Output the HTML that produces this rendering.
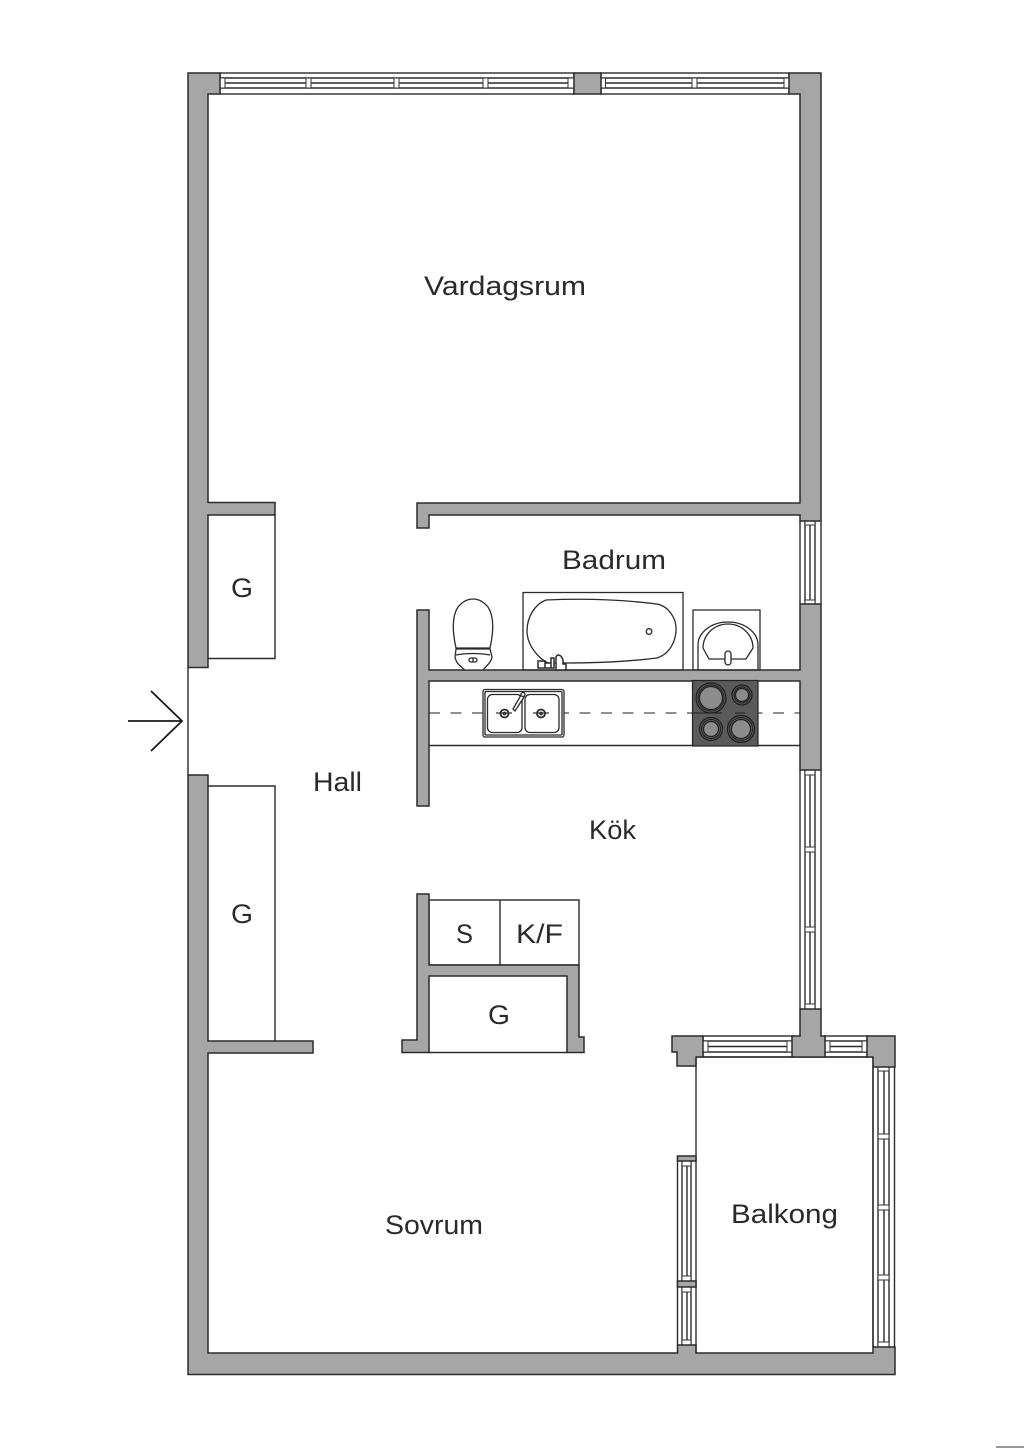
<!DOCTYPE html>
<html><head><meta charset="utf-8"><style>
html,body{margin:0;padding:0;background:#fff}
svg{display:block}
text{font-family:"Liberation Sans",sans-serif;font-size:27px;fill:#2a2a2a}
.w{fill:#a6a6a6;stroke:#2b2b2b;stroke-width:1.5;stroke-linejoin:miter}
.l{fill:none;stroke:#2b2b2b;stroke-width:1.4}
.t{fill:none;stroke:#2b2b2b;stroke-width:1.3}
.m{fill:#fff;stroke:#333;stroke-width:1}
.b{fill:#8c8c8c;stroke:#222;stroke-width:1.2}
</style></head><body>
<svg width="1024" height="1448" viewBox="0 0 1024 1448" xmlns="http://www.w3.org/2000/svg">
<rect width="1024" height="1448" fill="#fff"/>

<!-- top windows -->
<g class="l">
<rect x="220" y="73" width="354" height="21"/>
<rect x="601" y="73" width="188" height="21"/>
<path d="M220 78H574M220 88H574M220 83H574M601 78H789M601 88H789M601 83H789" />
<!-- right wall windows -->
<path d="M800 521V604M821 521V604M805 521V604M810 521V604M815 521V604"/>
<path d="M800 770V1009M821 770V1009M805 770V1009M810 770V1009M815 770V1009"/>
<!-- balcony front windows -->
<rect x="703" y="1036" width="90" height="21"/>
<path d="M703 1041H793M703 1052H793M708 1046.500H787"/>
<rect x="825" y="1036" width="42" height="21"/>
<path d="M825 1041H867M825 1052H867M830 1046.500H862"/>
<!-- balcony right window -->
<path d="M873 1067V1347M878 1067V1347M884 1067V1347M889 1067V1347M894.500 1067V1347"/>
<!-- bedroom window -->
<path d="M677.500 1156V1345M682 1161V1345M687 1161V1345M691 1161V1345M696 1057V1353M873 1057V1347M696 1057H873"/>
</g>
<g class="m">
<rect x="220" y="78" width="5" height="10"/><rect x="306" y="78" width="5" height="10"/><rect x="394" y="78" width="5" height="10"/><rect x="483" y="78" width="5" height="10"/><rect x="568" y="78" width="6" height="10"/>
<rect x="601" y="78" width="4.500" height="10"/><rect x="692" y="78" width="5" height="10"/><rect x="784" y="78" width="5" height="10"/>
<rect x="805" y="521" width="10" height="4"/><rect x="805" y="600" width="10" height="4"/>
<rect x="805" y="770" width="10" height="5"/><rect x="805" y="847" width="10" height="5"/><rect x="805" y="927" width="10" height="5"/><rect x="805" y="1004" width="10" height="5"/>
<rect x="703" y="1041" width="5" height="11"/><rect x="787" y="1041" width="5" height="11"/><rect x="825" y="1041" width="5" height="11"/><rect x="862" y="1041" width="5" height="11"/>
<rect x="878" y="1067" width="11" height="4"/><rect x="878" y="1134" width="11" height="5"/><rect x="878" y="1205" width="11" height="5"/><rect x="878" y="1275" width="11" height="5"/><rect x="878" y="1342" width="11" height="5"/>
<rect x="682" y="1161" width="9" height="5"/><rect x="682" y="1276" width="9" height="5"/><rect x="682" y="1287" width="9" height="5"/><rect x="682" y="1340" width="9" height="5"/>
</g>

<!-- closets -->
<g class="l">
<path d="M275 515V658.500H208"/>
<path d="M208 786H275V1041"/>
<rect x="429" y="900" width="150" height="65"/>
<path d="M500 900V965M429 1052.500H567"/>
<path d="M188 667V775"/>
<path d="M429 745.500H800"/>
</g>

<!-- walls -->
<g class="w">
<path d="M188 73H220V94H208V502.500H275V515H208V667.500H188Z"/>
<rect x="574" y="73" width="27" height="21"/>
<path d="M821 73H789V94H800V503H417V528H429V515H800V521H821Z"/>
<path d="M417 610H429V670H800V604H821V770H800V681H429V806H417Z"/>
<path d="M188 775H208V1041H313V1053H208V1353H677.500V1345H696V1353H873V1347H895V1374.500H188Z"/>
<path d="M417 894H429V965H579V1037H584V1052.500H567V976H429V1052.500H402V1040H417Z"/>
<path d="M672 1036H703V1057H696V1066H677V1052H672Z"/>
<path d="M800 1009H821V1036H825V1057H792V1036H800Z"/>
<path d="M867 1036H895V1067H873V1057H867Z"/>
<rect x="677.500" y="1156" width="18.500" height="5"/>
<rect x="677.500" y="1281" width="18.500" height="6"/>
</g>

<!-- arrow -->
<path d="M128 721H182M151 691L182 721L151 751" fill="none" stroke="#1a1a1a" stroke-width="1.8"/>

<!-- toilet -->
<g class="t">
<path d="M456 648C452 630 452 616 458 607C463 601 468 599 473 599C478 599 483 601 488 607C494 616 494 630 490 648Z" fill="#fff"/>
<path d="M456 649H490L492 657C491 663 486 666 483 670H465C460 666 456 663 455 657Z" fill="#fff"/>
<path d="M456 655C466 653 480 653 490 655"/>
<rect x="469" y="658" width="8" height="4" rx="2"/>
<path d="M473 658V662"/>
</g>

<!-- bath -->
<rect x="523" y="592.500" width="160" height="77.500" class="t" fill="none"/>
<g class="t">
<path d="M546 600C590 598 625 600 657 604C668 606 677 618 676 631C675 645 667 655 657 658C625 662 590 663 565 663H548C538 658 527 645 527 631C527 617 535 604 546 600Z" fill="#fff"/>
<circle cx="649" cy="631.500" r="2.800"/>
<path d="M538 661H545V668H538ZM545 663H551V668H545ZM551 658H554V668H551ZM556 657C557 654 561 654 563 660V664H566V670H556Z" fill="#fff" stroke-width="1.500"/>
</g>

<!-- wash basin -->
<g class="t">
<rect x="693" y="610" width="67" height="60"/>
<path d="M698 670V645A30 23 0 0 1 758 645V670"/>
<path d="M703 648A25 24 0 0 1 753 648L746 659H709Z" fill="#fff"/>
<rect x="725" y="651" width="6" height="14" rx="3" fill="#fff"/>
</g>

<!-- dashed line -->
<path d="M429 713H800" fill="none" stroke="#222" stroke-width="1.100" stroke-dasharray="11 10.500"/>

<!-- sink -->
<g class="t">
<rect x="483" y="689.500" width="81" height="47.500" rx="2" fill="#fff" stroke-width="1.300"/>
<rect x="485" y="691.500" width="77" height="43.500" rx="1"/>
<rect x="487.500" y="694.500" width="34.500" height="38" rx="5"/>
<rect x="525" y="694.500" width="34" height="38" rx="5"/>
<path d="M496 713H512M533 713H549" stroke="#333"/>
<circle cx="504.500" cy="713.500" r="4" stroke-width="1.800"/>
<circle cx="504.500" cy="713.500" r="1.200"/>
<circle cx="541" cy="713.500" r="4" stroke-width="1.800"/>
<circle cx="541" cy="713.500" r="1.200"/>
<path d="M513 709L521 695L524 697L515 711Z" fill="#fff"/>
<circle cx="523" cy="694.500" r="2" fill="#fff"/>
</g>

<!-- hob -->
<rect x="692.500" y="680.500" width="65.500" height="65.500" fill="#5a5a5a" stroke="#222" stroke-width="1.200"/>
<path d="M692 713H722M735 713H745" stroke="#222" stroke-width="1"/>
<g fill="none" stroke="#1f1f1f" stroke-width="1.200">
<circle cx="711" cy="698" r="15"/><circle cx="742" cy="695" r="10"/><circle cx="711" cy="729" r="11.500"/><circle cx="741" cy="729" r="13.500"/>
</g>
<g class="b">
<circle cx="711" cy="698" r="11.500"/><circle cx="742" cy="695" r="6.500"/><circle cx="711" cy="729" r="7.500"/><circle cx="741" cy="729" r="9.500"/>
</g>
<g fill="none" stroke="#222" stroke-width="1">
<circle cx="711" cy="698" r="13"/><circle cx="742" cy="695" r="8"/><circle cx="711" cy="729" r="9.500"/><circle cx="741" cy="729" r="11.500"/>
</g>

<!-- labels -->
<text x="424" y="295" textLength="162" lengthAdjust="spacingAndGlyphs">Vardagsrum</text>
<text x="562" y="569" textLength="104" lengthAdjust="spacingAndGlyphs">Badrum</text>
<text x="313" y="791" textLength="49" lengthAdjust="spacingAndGlyphs">Hall</text>
<text x="589" y="839" textLength="47" lengthAdjust="spacingAndGlyphs">Kök</text>
<text x="231" y="597" textLength="22" lengthAdjust="spacingAndGlyphs">G</text>
<text x="231" y="923" textLength="22" lengthAdjust="spacingAndGlyphs">G</text>
<text x="456" y="943" textLength="17" lengthAdjust="spacingAndGlyphs">S</text>
<text x="516" y="943" textLength="47" lengthAdjust="spacingAndGlyphs">K/F</text>
<text x="488" y="1024" textLength="22" lengthAdjust="spacingAndGlyphs">G</text>
<text x="385" y="1234" textLength="98" lengthAdjust="spacingAndGlyphs">Sovrum</text>
<text x="731" y="1223" textLength="107" lengthAdjust="spacingAndGlyphs">Balkong</text>

<rect x="996" y="1446" width="28" height="2" fill="#999"/>
</svg>
</body></html>
